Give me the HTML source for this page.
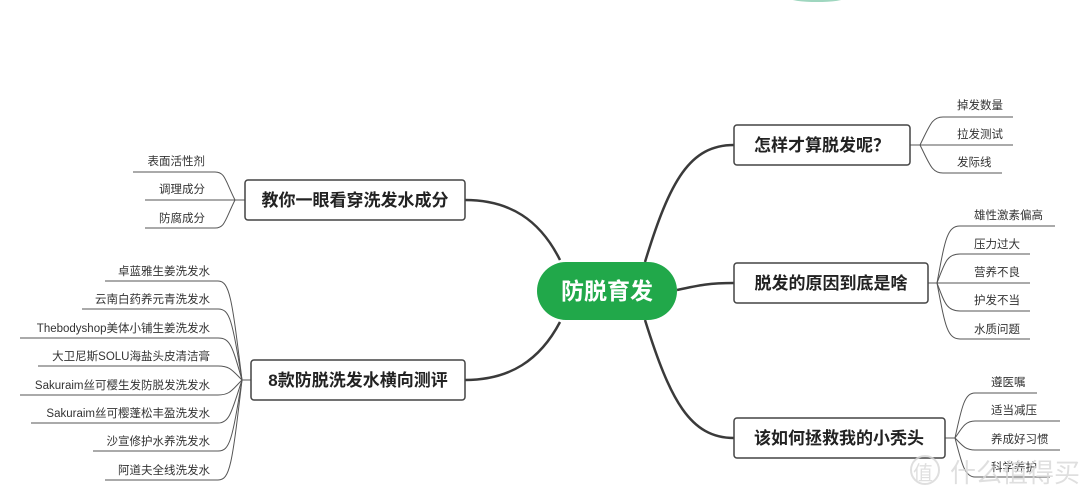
<!DOCTYPE html>
<html><head><meta charset="utf-8"><style>
html,body{margin:0;padding:0;background:#fff;width:1080px;height:499px;overflow:hidden}
svg text{font-family:"Liberation Sans","Noto Sans CJK SC",sans-serif}
</style></head><body>
<svg width="1080" height="499" viewBox="0 0 1080 499" xmlns="http://www.w3.org/2000/svg">
<rect width="1080" height="499" fill="#fff"/>
<ellipse cx="817" cy="-2" rx="28" ry="4" fill="#9fd6bf"/>
<g fill="none" stroke="#3a3a3a" stroke-width="2.5">
<path d="M560 260 C540 220 510 200 465 200"/>
<path d="M560 322 C540 360 510 380 465 380"/>
<path d="M645 262 C670 180 690 145 734 145"/>
<path d="M677 290 C700 285 710 283 734 283"/>
<path d="M645 320 C670 400 690 438 734 438"/>
</g>
<g fill="none" stroke="#555" stroke-width="1">
<!-- box1 leaves -->
<path d="M245 200 L235 200 C225 180 225 172 215 172 L133 172"/>
<path d="M235 200 L145 200"/>
<path d="M235 200 C225 220 225 228 215 228 L145 228"/>
<!-- box2 leaves -->
<path d="M251 380 L242 380"/>
<path d="M242 380 C232 300 230 281 218 281 L105 281"/>
<path d="M242 380 C232 320 230 309 218 309 L82 309"/>
<path d="M242 380 C232 345 230 338 218 338 L20 338"/>
<path d="M242 380 C232 370 230 366 218 366 L38 366"/>
<path d="M242 380 C232 390 230 395 218 395 L20 395"/>
<path d="M242 380 C232 410 230 423 218 423 L31 423"/>
<path d="M242 380 C232 440 230 451 218 451 L93 451"/>
<path d="M242 380 C232 465 230 480 218 480 L105 480"/>
<!-- A leaves -->
<path d="M910 145 L920 145 C930 125 932 117 943 117 L1013 117"/>
<path d="M920 145 L1013 145"/>
<path d="M920 145 C930 165 932 173 943 173 L1002 173"/>
<!-- B leaves -->
<path d="M928 283 L937 283 C945 240 947 226 960 226 L1055 226"/>
<path d="M937 283 C945 262 947 254 960 254 L1030 254"/>
<path d="M937 283 L1030 283"/>
<path d="M937 283 C945 304 947 311 960 311 L1030 311"/>
<path d="M937 283 C945 325 947 339 960 339 L1030 339"/>
<!-- C leaves -->
<path d="M945 438 L955 438 C962 405 965 393 975 393 L1037 393"/>
<path d="M955 438 C962 428 965 421 975 421 L1060 421"/>
<path d="M955 438 C962 445 965 450 975 450 L1060 450"/>
<path d="M955 438 C962 465 965 477 975 477 L1050 477"/>
</g>
<g fill="#fff" stroke="#444" stroke-width="1.5">
<rect x="245" y="180" width="220" height="40" rx="3"/>
<rect x="251" y="360" width="214" height="40" rx="3"/>
<rect x="734" y="125" width="176" height="40" rx="3"/>
<rect x="734" y="263" width="194" height="40" rx="3"/>
<rect x="734" y="418" width="211" height="40" rx="3"/>
</g>
<rect x="537" y="262" width="140" height="58" rx="29" fill="#21a84a"/>
<text x="607" y="299" font-size="23" font-weight="bold" fill="#fff" text-anchor="middle">防脱育发</text>
<g font-size="17" font-weight="bold" fill="#222" text-anchor="middle">
<text x="355" y="206">教你一眼看穿洗发水成分</text>
<text x="358" y="386">8款防脱洗发水横向测评</text>
<text x="822" y="151">怎样才算脱发呢？</text>
<text x="831" y="289">脱发的原因到底是啥</text>
<text x="839" y="444">该如何拯救我的小秃头</text>
</g>
<g font-size="11.5" fill="#333" text-anchor="end">
<text x="205" y="165">表面活性剂</text>
<text x="205" y="193">调理成分</text>
<text x="205" y="222">防腐成分</text>
<text x="210" y="275">卓蓝雅生姜洗发水</text>
<text x="210" y="303">云南白药养元青洗发水</text>
<text x="210" y="332">Thebodyshop美体小铺生姜洗发水</text>
<text x="210" y="360">大卫尼斯SOLU海盐头皮清洁膏</text>
<text x="210" y="389">Sakuraim丝可樱生发防脱发洗发水</text>
<text x="210" y="417">Sakuraim丝可樱蓬松丰盈洗发水</text>
<text x="210" y="445">沙宣修护水养洗发水</text>
<text x="210" y="474">阿道夫全线洗发水</text>
</g>
<g font-size="11.5" fill="#333">
<text x="957" y="109">掉发数量</text>
<text x="957" y="138">拉发测试</text>
<text x="957" y="166">发际线</text>
<text x="974" y="219">雄性激素偏高</text>
<text x="974" y="248">压力过大</text>
<text x="974" y="276">营养不良</text>
<text x="974" y="304">护发不当</text>
<text x="974" y="333">水质问题</text>
<text x="991" y="386">遵医嘱</text>
<text x="991" y="414">适当减压</text>
<text x="991" y="443">养成好习惯</text>
<text x="991" y="471">科学养护</text>
</g>
<g fill="#d8d8d8" font-size="26" opacity="0.8">
<circle cx="925" cy="470" r="14" fill="none" stroke="#d8d8d8" stroke-width="2"/>
<text x="913" y="480" font-size="20">值</text>
<text x="950" y="482">什么值得买</text>
</g>
</svg>
</body></html>
